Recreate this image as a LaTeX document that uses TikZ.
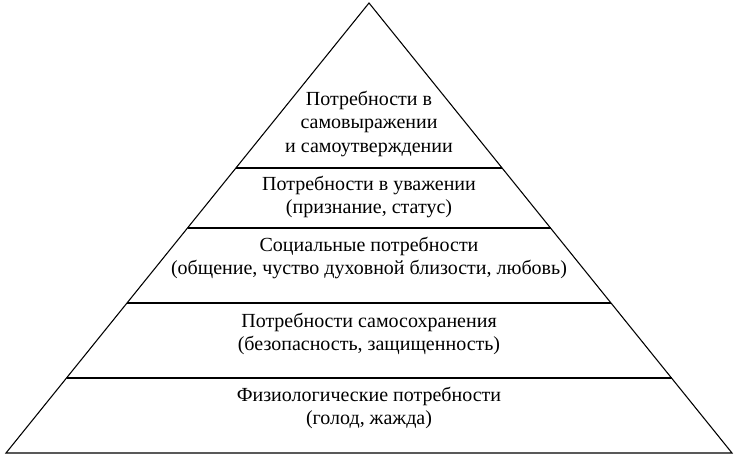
\documentclass[tikz,border=0pt]{standalone}
\usepackage{fontspec}
\setmainfont{Liberation Serif}
\usetikzlibrary{calc}
\tikzset{
  edge/.style={draw=black, line width=0.8pt},
  lvl/.style={font=\fontsize{15}{17.5}\selectfont, align=center, inner sep=0pt},
}
\begin{document}
\begin{tikzpicture}[x=0.75pt,y=-0.75pt]
  \useasboundingbox (0,0) rectangle (738,456);

  % pyramid corners
  \coordinate (apex) at (369,3);
  \coordinate (bl) at (6,453);
  \coordinate (br) at (732,453);
  \draw[edge] (apex) -- (bl) -- (br) -- cycle;

  % level separators
  \foreach \y/\n in {168/a, 228/b, 303/c, 378/d}{
    \coordinate (l\n) at ($(apex)!{(\y-3)/450}!(bl)$);
    \coordinate (r\n) at ($(apex)!{(\y-3)/450}!(br)$);
    \draw[edge] (l\n) -- (r\n);
  }

  \node[lvl] (self)   at (369,124) {Потребности в\\самовыражении\\и самоутверждении};
  \node[lvl] (esteem) at (369,197) {Потребности в уважении\\(признание, статус)};
  \node[lvl] (social) at (369,258) {Социальные потребности\\(общение, чуство духовной близости, любовь)};
  \node[lvl] (safety) at (369,334) {Потребности самосохранения\\(безопасность, защищенность)};
  \node[lvl] (phys)   at (369,408) {Физиологические потребности\\(голод, жажда)};
\end{tikzpicture}
\end{document}
